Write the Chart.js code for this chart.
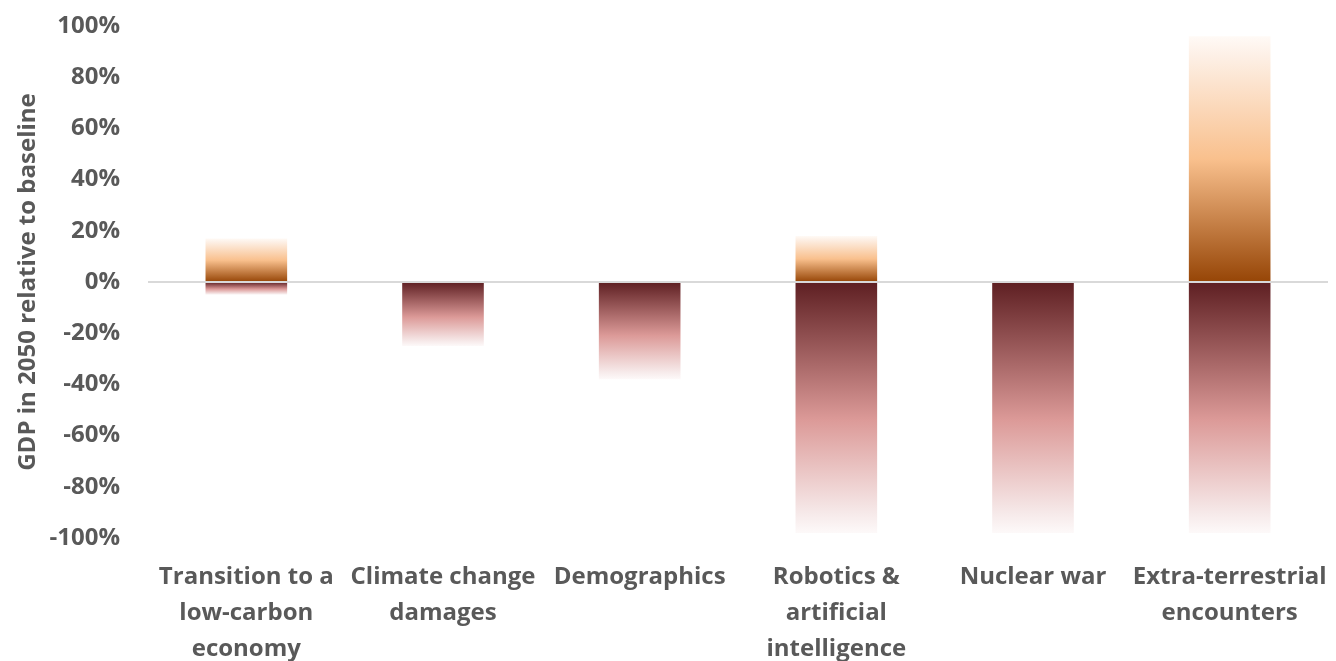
<!DOCTYPE html>
<html>
<head>
<meta charset="utf-8">
<script src="https://cdn.jsdelivr.net/npm/chart.js@4.4.1/dist/chart.umd.min.js"></script>
<style>
html,body{margin:0;padding:0;background:#fff;}
#wrap{width:1336px;height:661px;position:relative;}
</style>
</head>
<body>
<div id="wrap"><canvas id="c"></canvas></div>
<script>
const categories = [
  ["Transition to a", "low-carbon", "economy"],
  ["Climate change", "damages"],
  ["Demographics"],
  ["Robotics &", "artificial", "intelligence"],
  ["Nuclear war"],
  ["Extra-terrestrial", "encounters"]
];
const upsideValues = [17, 0, 0, 18, 0, 96];
const downsideValues = [-5, -25, -38, -98, -98, -98];
const yMin = -100, yMax = 100, yStep = 20;

const posStops = [[0, "#964506"], [0.5, "#F9C08D"], [0.92, "#FDF0E6"], [1, "#FFFAF6"]];
const negStops = [[0, "#5E1F22"], [0.55, "#DC9A98"], [0.92, "#F6E9E9"], [1, "#FDF9F9"]];

function barGradient(ctx, stops) {
  const chart = ctx.chart;
  const y = chart.scales && chart.scales.y;
  if (!y || ctx.type !== "data") return stops[0][1];
  const v = ctx.raw;
  if (!v) return stops[0][1];
  const p0 = y.getPixelForValue(0);
  const p1 = y.getPixelForValue(v);
  if (!isFinite(p0) || !isFinite(p1) || p0 === p1) return stops[0][1];
  const g = chart.ctx.createLinearGradient(0, p0, 0, p1);
  stops.forEach(s => g.addColorStop(s[0], s[1]));
  return g;
}

const fontFam = "'Open Sans', Lato, sans-serif";
const grey = "#595959";

function build() {
  new Chart(document.getElementById("c"), {
    type: "bar",
    data: {
      labels: categories,
      datasets: [
        { label: "Upside", data: upsideValues, backgroundColor: c => barGradient(c, posStops), borderWidth: 0 },
        { label: "Downside", data: downsideValues, backgroundColor: c => barGradient(c, negStops), borderWidth: 0 }
      ]
    },
    options: {
      responsive: true,
      maintainAspectRatio: false,
      animation: false,
      layout: { padding: { top: 26, right: 8, bottom: 0, left: 0 } },
      plugins: { legend: { display: false }, tooltip: { enabled: false } },
      datasets: { bar: { categoryPercentage: 1, barPercentage: 0.415 } },
      scales: {
        x: {
          stacked: true,
          grid: { display: false, drawTicks: false },
          border: { display: false },
          ticks: { color: grey, font: { family: fontFam, size: 24, weight: "bold", lineHeight: "36px" }, maxRotation: 0, autoSkip: false, padding: 21 },
          afterFit: s => { s.height = 123; s.paddingLeft = 0; s.paddingRight = 0; }
        },
        y: {
          stacked: true,
          min: yMin, max: yMax,
          z: 1,
          border: { display: false },
          grid: {
            color: c => (c.tick && c.tick.value === 0) ? "#D9D9D9" : "rgba(0,0,0,0)",
            lineWidth: 2,
            drawTicks: false
          },
          ticks: {
            stepSize: yStep,
            color: grey,
            padding: 28,
            font: { family: fontFam, size: 24, weight: "bold" },
            callback: v => v + "%"
          },
          title: {
            display: true,
            text: "GDP in 2050 relative to baseline",
            color: grey,
            font: { family: fontFam, size: 24, weight: "bold" },
            padding: { top: 14, bottom: 0 }
          },
          afterFit: s => { s.width = 148; s.paddingTop = 0; s.paddingBottom = 0; }
        }
      }
    }
  });
}

let built = false;
function go() { if (!built) { built = true; build(); } }
if (document.fonts && document.fonts.load) {
  Promise.all([
    document.fonts.load("bold 24px 'Open Sans'"),
    document.fonts.load("24px 'Open Sans'")
  ]).then(go, go);
  setTimeout(go, 1500);
} else { go(); }
</script>
</body>
</html>
